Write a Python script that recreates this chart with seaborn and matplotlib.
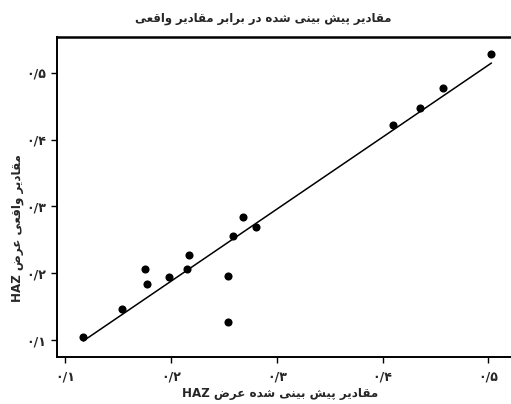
import numpy as np
import pandas as pd
import seaborn as sns
import matplotlib
matplotlib.use("Agg")
import matplotlib.pyplot as plt

# ---- data ----
predicted = [0.117, 0.154, 0.175, 0.177, 0.198, 0.215, 0.217, 0.254,
             0.254, 0.259, 0.268, 0.280, 0.410, 0.435, 0.457, 0.503]
actual = [0.105, 0.147, 0.207, 0.184, 0.195, 0.207, 0.227, 0.128,
          0.196, 0.256, 0.284, 0.269, 0.421, 0.447, 0.477, 0.527]
tick_values = [0.1, 0.2, 0.3, 0.4, 0.5]
tick_labels = ["۰/۱", "۰/۲", "۰/۳", "۰/۴", "۰/۵"]
title_text = "مقادیر پیش بینی شده در برابر مقادیر واقعی"
xlabel_text = "مقادیر پیش بینی شده عرض HAZ"
ylabel_text = "مقادیر واقعی عرض HAZ"

# ---- minimal Persian shaping (matplotlib has no RTL shaping) ----
FORMS = {  # isolated, final, initial, medial
    'ا': ('\uFE8D', '\uFE8E', None, None),
    'د': ('\uFEA9', '\uFEAA', None, None),
    'ر': ('\uFEAD', '\uFEAE', None, None),
    'و': ('\uFEED', '\uFEEE', None, None),
    'م': ('\uFEE1', '\uFEE2', '\uFEE3', '\uFEE4'),
    'ق': ('\uFED5', '\uFED6', '\uFED7', '\uFED8'),
    'ی': ('\uFBFC', '\uFBFD', '\uFBFE', '\uFBFF'),
    'پ': ('\uFB56', '\uFB57', '\uFB58', '\uFB59'),
    'ش': ('\uFEB5', '\uFEB6', '\uFEB7', '\uFEB8'),
    'ب': ('\uFE8F', '\uFE90', '\uFE91', '\uFE92'),
    'ن': ('\uFEE5', '\uFEE6', '\uFEE7', '\uFEE8'),
    'ه': ('\uFEE9', '\uFEEA', '\uFEEB', '\uFEEC'),
    'ع': ('\uFEC9', '\uFECA', '\uFECB', '\uFECC'),
    'ض': ('\uFEBD', '\uFEBE', '\uFEBF', '\uFEC0'),
}


def shape_word(w):
    out = []
    for i, c in enumerate(w):
        if c not in FORMS:
            out.append(c)
            continue
        iso, fin, ini, med = FORMS[c]
        prev = w[i - 1] if i > 0 else None
        nxt = w[i + 1] if i + 1 < len(w) else None
        jp = prev in FORMS and FORMS[prev][2] is not None
        jn = (nxt in FORMS) and ini is not None
        if jp and jn:
            out.append(med)
        elif jp:
            out.append(fin)
        elif jn:
            out.append(ini)
        else:
            out.append(iso)
    return "".join(reversed(out))


def rtl(s):
    toks = s.split(" ")
    res = []
    for t in reversed(toks):
        if any(ch in FORMS for ch in t):
            res.append(shape_word(t))
        else:
            res.append(t)
    return " ".join(res)


sns.set_style("white")
plt.rcParams['font.family'] = ['DejaVu Sans']

df = pd.DataFrame({"predicted": predicted, "actual": actual})

fig = plt.figure(figsize=(5.11, 4.04), dpi=100)
ax = fig.add_axes([57.3 / 511, 47.3 / 404, (511 - 57.3) / 511, (356.7 - 37) / 404])

sns.regplot(data=df, x="predicted", y="actual", ax=ax, ci=None, truncate=True,
            scatter_kws=dict(s=34, color="black", edgecolor="black", linewidths=0, alpha=1),
            line_kws=dict(color="black", linewidth=1.1))

ax.set_xlim(0.0924, 0.5215)
ax.set_ylim(0.0758, 0.553)
ax.set_xticks(tick_values)
ax.set_xticklabels(tick_labels, fontsize=9, fontweight="bold")
ax.set_yticks(tick_values)
ax.set_yticklabels(tick_labels, fontsize=9, fontweight="bold")
ax.tick_params(axis="x", direction="out", length=4, width=1, color="black",
               pad=6, bottom=True)
ax.tick_params(axis="y", direction="out", length=4, width=1, color="black",
               pad=4, left=True)
ax.set_xlabel("")
ax.set_ylabel("")

for side in ["left", "bottom", "top"]:
    ax.spines[side].set_visible(True)
    ax.spines[side].set_color("black")
    ax.spines[side].set_linewidth(1.4)
ax.spines["top"].set_linewidth(1.8)
ax.spines["right"].set_visible(False)

fig.text(263 / 511, 1 - 18.5 / 404, rtl(title_text), ha="center", va="center",
         fontsize=8.4, fontweight="bold")
fig.text(280 / 511, 1 - 393 / 404, rtl(xlabel_text), ha="center", va="center",
         fontsize=8.6, fontweight="bold")
fig.text(18 / 511, 1 - 228 / 404, rtl(ylabel_text), ha="center", va="center",
         fontsize=8.6, fontweight="bold", rotation=90)

fig.savefig("out.png", dpi=100)
